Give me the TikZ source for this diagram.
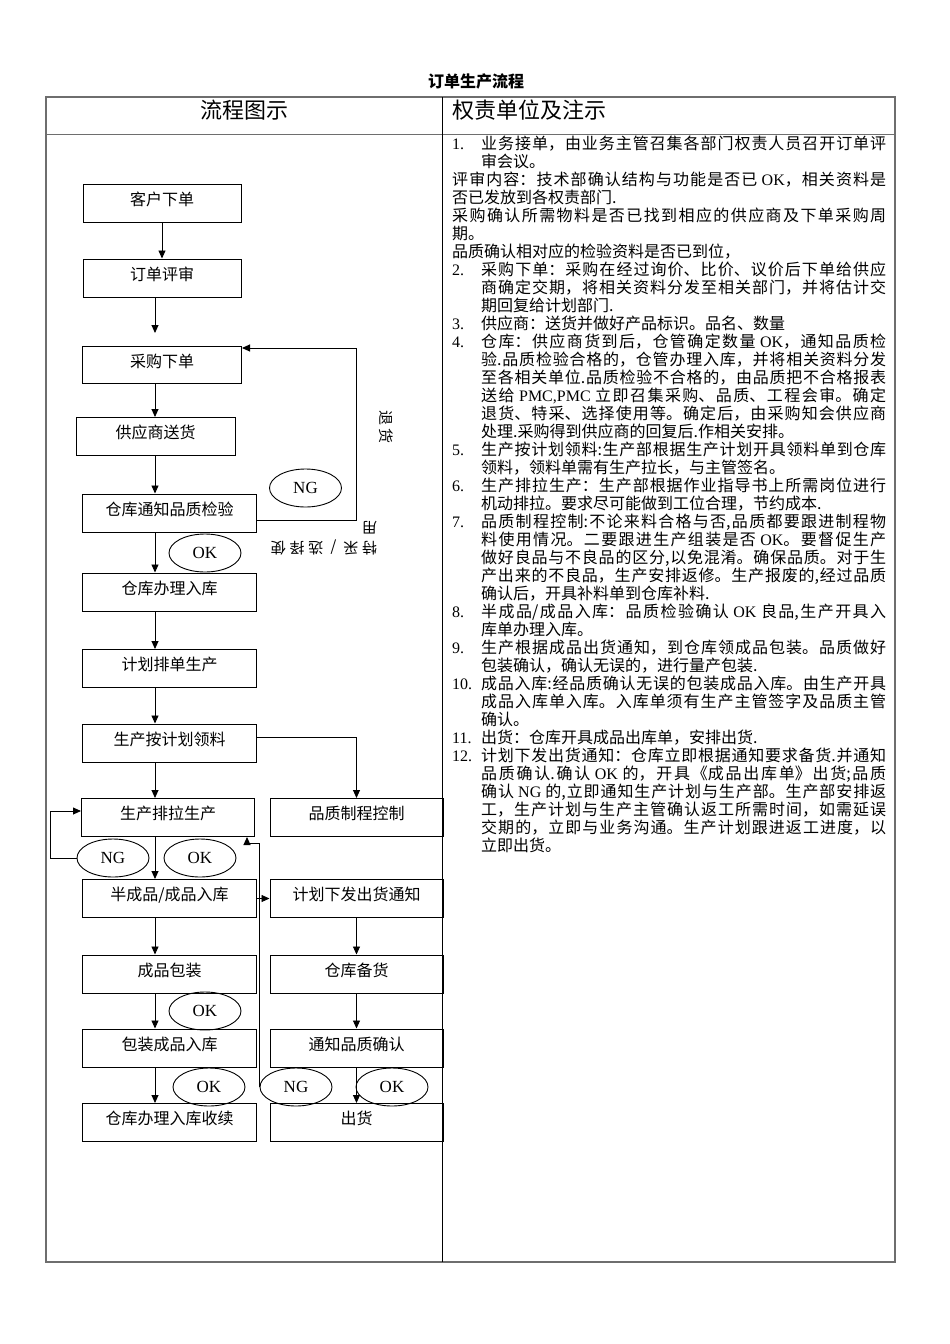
\documentclass[tikz,border=0pt]{standalone}
\usepackage{fontspec}
\setmainfont{Noto Sans CJK SC}
\newfontfamily\en{Liberation Serif}
\newfontfamily\spaced[LetterSpace=25]{Noto Sans CJK SC}
\usetikzlibrary{shapes.geometric,arrows.meta}
\XeTeXlinebreaklocale "zh"
\XeTeXlinebreakskip=0pt plus 3pt

\begin{document}
\begin{tikzpicture}[x=1pt, y=-1pt, >={Triangle[length=8pt,width=7pt]},
    flowbox/.style={draw, line width=1pt, minimum width=174pt, minimum height=38pt,
        inner sep=0pt, text height=14pt, text depth=10pt, font=\fontsize{16}{18}\selectfont},
    tagoval/.style={draw, ellipse, line width=0.9pt, minimum width=72pt, minimum height=38pt,
        inner sep=0pt, font=\en\fontsize{17}{18}\selectfont},
    flow/.style={->, line width=0.9pt}]
    \definecolor{mygrid}{RGB}{110,110,110}

    \fill[white] (0,0) rectangle (950,1344);
    \useasboundingbox (0,0) rectangle (950,1344);

    \node[font=\bfseries\fontsize{16}{18}\selectfont] (title) at (476,81) {订单生产流程};
    \draw[mygrid, line width=1.2pt] (46,97) rectangle (895,1262);
    \draw[mygrid, line width=1pt] (46,134) -- (895,134);
    \draw[black, line width=0.8pt] (442,97) -- (442,1262);
    \node[font=\fontsize{22}{24}\selectfont] (headl) at (244,110) {流程图示};
    \node[anchor=west, inner sep=0pt, font=\fontsize{22}{24}\selectfont] (headr) at (452,110) {权责单位及注示};

    \node[flowbox, minimum width=158pt] (kh) at (162,203) {客户下单};
    \node[flowbox, minimum width=158pt] (ps) at (162,278) {订单评审};
    \node[flowbox, minimum width=159pt, minimum height=37pt] (cg) at (162,365) {采购下单};
    \node[flowbox, minimum width=159pt] (gy) at (155.5,436.5) {供应商送货};
    \node[flowbox] (jy) at (169.5,513) {仓库通知品质检验};
    \node[flowbox] (rk) at (169.5,592) {仓库办理入库};
    \node[flowbox] (pd) at (169.5,668.5) {计划排单生产};
    \node[flowbox] (ll) at (169.5,743) {生产按计划领料};
    \node[flowbox, minimum width=173pt] (pl) at (168,817.5) {生产排拉生产};
    \node[flowbox, minimum width=173pt] (zc) at (356.5,817.5) {品质制程控制};
    \node[flowbox] (bcp) at (169.5,898.5) {半成品/成品入库};
    \node[flowbox, minimum width=173pt] (ch) at (356.5,898.5) {计划下发出货通知};
    \node[flowbox] (bz) at (169.5,974) {成品包装};
    \node[flowbox, minimum width=173pt] (bh) at (356.5,974) {仓库备货};
    \node[flowbox] (bzrk) at (169.5,1048) {包装成品入库};
    \node[flowbox, minimum width=173pt] (qr) at (356.5,1048) {通知品质确认};
    \node[flowbox] (sx) at (169.5,1122.5) {仓库办理入库收续};
    \node[flowbox, minimum width=173pt] (chh) at (356.5,1122.5) {出货};

    \node[tagoval] (ng1) at (305.5,488) {NG};
    \node[tagoval] (ok1) at (205,553) {OK};
    \node[tagoval] (ng2) at (113,858) {NG};
    \node[tagoval] (ok2) at (200,858) {OK};
    \node[tagoval] (ok3) at (205,1011) {OK};
    \node[tagoval] (ok4) at (209,1087) {OK};
    \node[tagoval] (ng3) at (296,1087) {NG};
    \node[tagoval] (ok5) at (392,1087) {OK};

    \node[rotate=-90, font=\spaced\fontsize{15}{18}\selectfont] (thlabel) at (386,427) {退货};
    \node[rotate=180, align=left, inner sep=0pt, font=\spaced\fontsize{15}{20}\selectfont] (tclabel) at (324,538) {特采 / 选择使\\用};

    \coordinate (lc) at (155,0);
    \coordinate (rt) at (356,0);
    \coordinate (lp) at (50,0);
    \coordinate (nx) at (0,843);
    \coordinate (cgin) at ([yshift=-2pt]cg.north east);

    \draw[flow] (kh) -- (ps);
    \draw[flow, shorten >=13pt] (ps.south -| lc) -- (cg.north -| lc);
    \draw[flow] (cg.south -| lc) -- (gy.north -| lc);
    \draw[flow] (gy.south -| lc) -- (jy.north -| lc);
    \draw[flow] (jy.south -| lc) -- (rk.north -| lc);
    \draw[flow] (rk.south -| lc) -- (pd.north -| lc);
    \draw[flow] (pd.south -| lc) -- (ll.north -| lc);
    \draw[flow] (ll.south -| lc) -- (pl.north -| lc);
    \draw[flow] (pl.south -| lc) -- (bcp.north -| lc);
    \draw[flow] (bcp.south -| lc) -- (bz.north -| lc);
    \draw[flow] (bz.south -| lc) -- (bzrk.north -| lc);
    \draw[flow] (bzrk.south -| lc) -- (sx.north -| lc);

    \draw[flow] ([yshift=-7pt]jy.east) -| (rt |- cgin) -- (cgin);
    \draw[flow] ([yshift=6pt]ll.east) -| (zc);
    \draw[flow] (ng2.west) -- (ng2.west -| lp) |- ([yshift=6.5pt]pl.west);
    \draw[flow] (ng3.west) -- (ng3.west |- nx) -| ([xshift=79pt]pl.south);
    \draw[flow] (bcp) -- (ch);
    \draw[flow] (ch) -- (bh);
    \draw[flow] (bh) -- (qr);
    \draw[flow] (qr) -- (chh);

    \node[anchor=north west, inner sep=0pt, text width=434pt, align=justify,
        font=\fontsize{16}{18}\selectfont] (notes) at (452,136) {%
\parindent=0pt\tolerance=10000\hbadness=10000%
\hangindent=29pt\hangafter=1\makebox[29pt][l]{\en 1.}业务接单，由业务主管召集各部门权责人员召开订单评\linebreak 审会议。\par
评审内容：技术部确认结构与功能是否已 {\en OK}，相关资料是\linebreak 否已发放到各权责部门.\par
采购确认所需物料是否已找到相应的供应商及下单采购周\linebreak 期。\par
品质确认相对应的检验资料是否已到位，\par
\hangindent=29pt\hangafter=1\makebox[29pt][l]{\en 2.}采购下单：采购在经过询价、比价、议价后下单给供应\linebreak 商确定交期，将相关资料分发至相关部门，并将估计交\linebreak 期回复给计划部门.\par
\hangindent=29pt\hangafter=1\makebox[29pt][l]{\en 3.}供应商：送货并做好产品标识。品名、数量\par
\hangindent=29pt\hangafter=1\makebox[29pt][l]{\en 4.}仓库：供应商货到后，仓管确定数量 {\en OK}，通知品质检\linebreak 验.品质检验合格的，仓管办理入库，并将相关资料分发\linebreak 至各相关单位.品质检验不合格的，由品质把不合格报表\linebreak 送给 {\en PMC,PMC} 立即召集采购、品质、工程会审。确定\linebreak 退货、特采、选择使用等。确定后，由采购知会供应商\linebreak 处理.采购得到供应商的回复后.作相关安排。\par
\hangindent=29pt\hangafter=1\makebox[29pt][l]{\en 5.}生产按计划领料:生产部根据生产计划开具领料单到仓库\linebreak 领料，领料单需有生产拉长，与主管签名。\par
\hangindent=29pt\hangafter=1\makebox[29pt][l]{\en 6.}生产排拉生产：生产部根据作业指导书上所需岗位进行\linebreak 机动排拉。要求尽可能做到工位合理，节约成本.\par
\hangindent=29pt\hangafter=1\makebox[29pt][l]{\en 7.}品质制程控制:不论来料合格与否,品质都要跟进制程物\linebreak 料使用情况。二要跟进生产组装是否 {\en OK}。要督促生产\linebreak 做好良品与不良品的区分,以免混淆。确保品质。对于生\linebreak 产出来的不良品，生产安排返修。生产报废的,经过品质\linebreak 确认后，开具补料单到仓库补料.\par
\hangindent=29pt\hangafter=1\makebox[29pt][l]{\en 8.}半成品/成品入库：品质检验确认 {\en OK} 良品,生产开具入\linebreak 库单办理入库。\par
\hangindent=29pt\hangafter=1\makebox[29pt][l]{\en 9.}生产根据成品出货通知，到仓库领成品包装。品质做好\linebreak 包装确认，确认无误的，进行量产包装.\par
\hangindent=29pt\hangafter=1\makebox[29pt][l]{\en 10.}成品入库:经品质确认无误的包装成品入库。由生产开具\linebreak 成品入库单入库。入库单须有生产主管签字及品质主管\linebreak 确认。\par
\hangindent=29pt\hangafter=1\makebox[29pt][l]{\en 11.}出货：仓库开具成品出库单，安排出货.\par
\hangindent=29pt\hangafter=1\makebox[29pt][l]{\en 12.}计划下发出货通知：仓库立即根据通知要求备货.并通知\linebreak 品质确认.确认 {\en OK} 的，开具《成品出库单》出货;品质\linebreak 确认 {\en NG} 的,立即通知生产计划与生产部。生产部安排返\linebreak 工，生产计划与生产主管确认返工所需时间，如需延误\linebreak 交期的，立即与业务沟通。生产计划跟进返工进度，以\linebreak 立即出货。\par
};
\end{tikzpicture}
\end{document}
